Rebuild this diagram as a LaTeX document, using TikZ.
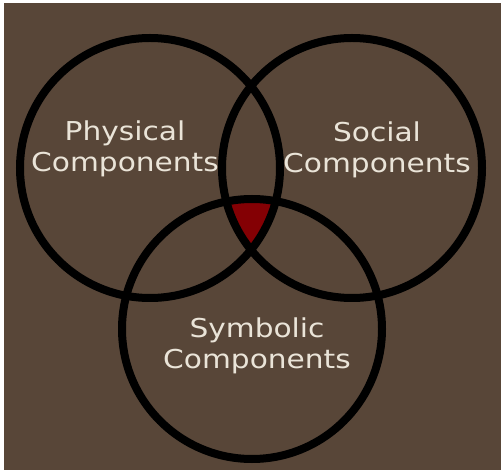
\documentclass[tikz,border=0pt]{standalone}
\usepackage{fontspec}
\newfontfamily\vennfont[FakeStretch=1.14]{DejaVu Sans}
\definecolor{bgbrown}{RGB}{88,70,56}
\definecolor{coremaroon}{RGB}{132,0,4}
\definecolor{labelcream}{RGB}{234,228,216}
\begin{document}
\begin{tikzpicture}[x=1pt,y=-1pt,
  ring/.style={draw=black,circle,line width=8pt,minimum size=260pt,inner sep=0pt},
  lbl/.style={text=labelcream,align=center,inner sep=0pt,font=\vennfont\fontsize{26}{31}\selectfont}]
\useasboundingbox (0,0) rectangle (501,470);
\fill[white] (0,0) rectangle (501,470);
\fill[bgbrown] (4,3) rectangle (501,470);
% the three sets
\coordinate (physc) at (150,168); \coordinate (socc) at (352,168); \coordinate (symc) at (252,329);
\begin{scope}
  \clip (physc) circle[radius=130pt]; \clip (socc) circle[radius=130pt];
  \fill[coremaroon] (symc) circle[radius=130pt];
\end{scope}
\node[ring] (physring) at (physc) {}; \node[ring] (socring) at (socc) {}; \node[ring] (symring) at (symc) {};
\node[lbl] (phys) at (125,149) {Physical\\Components};
\node[lbl] (soc) at (377,150) {Social\\Components};
\node[lbl] (sym) at (257,346) {Symbolic\\Components};
\end{tikzpicture}
\end{document}
